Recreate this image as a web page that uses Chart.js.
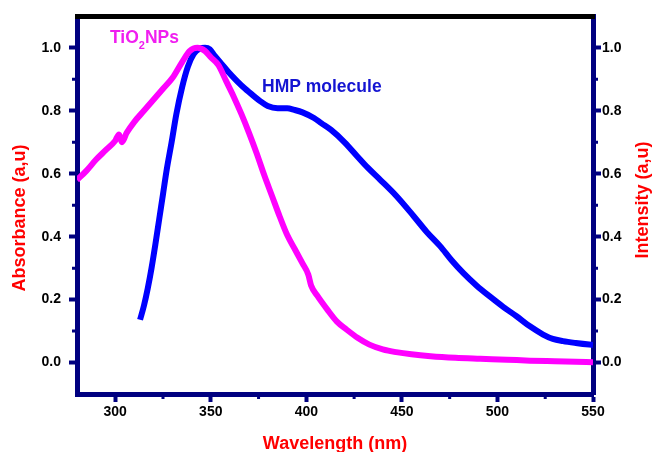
<!DOCTYPE html>
<html lang="en">
<head>
    <meta charset="UTF-8">
    <title>TiO2 NPs / HMP molecule</title>
    <style>
        html, body {
            margin: 0;
            padding: 0;
            background-color: white;
        }
        #wrap {
            width: 652px;
            height: 452px;
        }
    </style>
</head>
<body>
    <div id="wrap">
        <canvas id="grafica" width="652" height="452"></canvas>
    </div>

    <script src="https://cdn.jsdelivr.net/npm/chart.js"></script>
    <script>
        // Datos
        const tioWl = [280, 285, 290, 295, 300, 302, 303.5, 306, 310, 315, 320, 325, 330, 335, 339, 343, 347, 350, 354, 358, 362, 366, 370, 374, 378, 382, 386, 390, 394, 398, 401, 402.5, 406, 411, 416, 421, 427, 433, 440, 447, 455, 465, 478, 491, 505, 517, 530, 550];
        const tioAbs = [0.58, 0.61, 0.645, 0.675, 0.705, 0.725, 0.70, 0.73, 0.765, 0.80, 0.835, 0.87, 0.905, 0.955, 0.99, 1.0, 0.99, 0.97, 0.945, 0.895, 0.845, 0.79, 0.73, 0.665, 0.595, 0.53, 0.465, 0.405, 0.36, 0.315, 0.28, 0.245, 0.21, 0.168, 0.13, 0.105, 0.078, 0.057, 0.042, 0.033, 0.026, 0.02, 0.015, 0.012, 0.009, 0.006, 0.004, 0.001];

        const hmpWl = [313, 315, 317, 319, 321, 323, 325, 327, 329.5, 332, 335, 338, 341, 344, 347, 349.5, 352, 355.5, 359, 364, 368, 372.9, 376, 379.8, 385, 390, 393.7, 398, 404, 408, 412.8, 420, 426.7, 432, 438.8, 447, 456.2, 463, 470, 476, 482.2, 489, 496, 503, 510, 517, 523.9, 529, 534.3, 541, 548, 550];
        const hmpInt = [0.136, 0.18, 0.235, 0.30, 0.375, 0.455, 0.535, 0.615, 0.70, 0.79, 0.875, 0.94, 0.98, 0.997, 1.0, 0.995, 0.975, 0.95, 0.925, 0.893, 0.87, 0.845, 0.83, 0.815, 0.808, 0.808, 0.803, 0.795, 0.777, 0.76, 0.74, 0.70, 0.655, 0.62, 0.58, 0.53, 0.465, 0.415, 0.37, 0.325, 0.284, 0.245, 0.21, 0.177, 0.147, 0.115, 0.089, 0.075, 0.068, 0.062, 0.057, 0.056];

        const xTicks = [300, 350, 400, 450, 500, 550];
        const xMinor = [325, 375, 425, 475, 525];
        const yTicks = [0.0, 0.2, 0.4, 0.6, 0.8, 1.0];
        const yMinor = [0.1, 0.3, 0.5, 0.7, 0.9];

        const azul = '#000080';
        const rojo = '#ff0000';
        const fuente = 'Liberation Sans, Arial, sans-serif';

        function juntar(xs, ys) {
            return xs.map((x, i) => ({ x: x, y: ys[i] }));
        }

        // marcas menores, titulos de los ejes y etiquetas de las curvas
        const extras = {
            id: 'extras',
            afterDraw(chart) {
                const ctx = chart.ctx;
                const a = chart.chartArea;
                const sx = chart.scales.x, sy = chart.scales.y, sy2 = chart.scales.y2;
                ctx.save();

                // borde superior negro
                ctx.strokeStyle = '#000';
                ctx.lineWidth = 5;
                ctx.beginPath();
                ctx.moveTo(a.left - 2, a.top);
                ctx.lineTo(a.right + 2, a.top);
                ctx.stroke();

                // marcas menores
                ctx.strokeStyle = azul;
                ctx.lineWidth = 3;
                ctx.beginPath();
                xMinor.forEach(v => {
                    const px = sx.getPixelForValue(v);
                    ctx.moveTo(px, a.bottom);
                    ctx.lineTo(px, a.bottom + 5);
                });
                yMinor.forEach(v => {
                    const py = sy.getPixelForValue(v);
                    ctx.moveTo(a.left, py);
                    ctx.lineTo(a.left - 5, py);
                    const py2 = sy2.getPixelForValue(v);
                    ctx.moveTo(a.right, py2);
                    ctx.lineTo(a.right + 5, py2);
                });
                ctx.stroke();

                // titulos verticales (ambos se leen de abajo hacia arriba)
                ctx.fillStyle = rojo;
                ctx.font = 'bold 18px ' + fuente;
                ctx.textAlign = 'center';
                ctx.textBaseline = 'middle';
                ctx.save();
                ctx.translate(20, 218);
                ctx.rotate(-Math.PI / 2);
                ctx.fillText('Absorbance (a,u)', 0, 0);
                ctx.restore();
                ctx.save();
                ctx.translate(643, 200);
                ctx.rotate(-Math.PI / 2);
                ctx.fillText('Intensity (a,u)', 0, 0);
                ctx.restore();

                // etiquetas de las curvas
                ctx.textAlign = 'left';
                ctx.textBaseline = 'alphabetic';
                ctx.fillStyle = '#f01ef0';
                ctx.font = 'bold 17.5px ' + fuente;
                let x = 110;
                ctx.fillText('TiO', x, 43);
                x += ctx.measureText('TiO').width;
                ctx.font = 'bold 11px ' + fuente;
                ctx.fillText('2', x, 49);
                x += ctx.measureText('2').width;
                ctx.font = 'bold 17.5px ' + fuente;
                ctx.fillText('NPs', x, 43);

                ctx.fillStyle = '#1414d2';
                ctx.fillText('HMP molecule', 262, 92);
                ctx.restore();
            }
        };

        const fuenteTicks = { family: fuente, size: 14, weight: 'bold' };

        new Chart(document.getElementById('grafica').getContext('2d'), {
            type: 'scatter',
            data: {
                datasets: [
                    {
                        label: 'TiO2 NPs',
                        data: juntar(tioWl, tioAbs),
                        showLine: true,
                        borderColor: '#ff00ff',
                        borderWidth: 6,
                        pointRadius: 0,
                        cubicInterpolationMode: 'monotone',
                        yAxisID: 'y'
                    },
                    {
                        label: 'HMP molecule',
                        data: juntar(hmpWl, hmpInt),
                        showLine: true,
                        borderColor: '#0000ff',
                        borderWidth: 6,
                        pointRadius: 0,
                        cubicInterpolationMode: 'monotone',
                        yAxisID: 'y2'
                    }
                ]
            },
            options: {
                responsive: false,
                animation: false,
                layout: { padding: { top: 16, left: 0, right: 0, bottom: 0 } },
                plugins: {
                    legend: { display: false },
                    tooltip: { enabled: false }
                },
                scales: {
                    x: {
                        type: 'linear',
                        min: 280,
                        max: 550,
                        afterBuildTicks: s => { s.ticks = xTicks.map(v => ({ value: v })); },
                        afterFit: s => { s.height = 58; },
                        border: { color: azul, width: 5 },
                        grid: { drawOnChartArea: false, tickLength: 8, tickWidth: 4, tickColor: azul },
                        ticks: { color: '#000', font: fuenteTicks, padding: 2, maxRotation: 0 },
                        title: {
                            display: true,
                            text: 'Wavelength (nm)',
                            color: rojo,
                            font: { family: fuente, size: 18, weight: 'bold' },
                            padding: { top: 0, bottom: -3 }
                        }
                    },
                    y: {
                        position: 'left',
                        min: -0.1,
                        max: 1.1,
                        afterBuildTicks: s => { s.ticks = yTicks.map(v => ({ value: v })); },
                        afterFit: s => { s.width = 77; },
                        border: { color: azul, width: 5 },
                        grid: { drawOnChartArea: false, tickLength: 8, tickWidth: 4, tickColor: azul },
                        ticks: { color: '#000', font: fuenteTicks, padding: 8, callback: v => v.toFixed(1) }
                    },
                    y2: {
                        position: 'right',
                        min: -0.1,
                        max: 1.1,
                        afterBuildTicks: s => { s.ticks = yTicks.map(v => ({ value: v })); },
                        afterFit: s => { s.width = 59; },
                        border: { color: azul, width: 5 },
                        grid: { drawOnChartArea: false, tickLength: 8, tickWidth: 4, tickColor: azul },
                        ticks: { color: '#000', font: fuenteTicks, padding: 1, callback: v => v.toFixed(1) }
                    }
                }
            },
            plugins: [extras]
        });
    </script>
</body>
</html>
